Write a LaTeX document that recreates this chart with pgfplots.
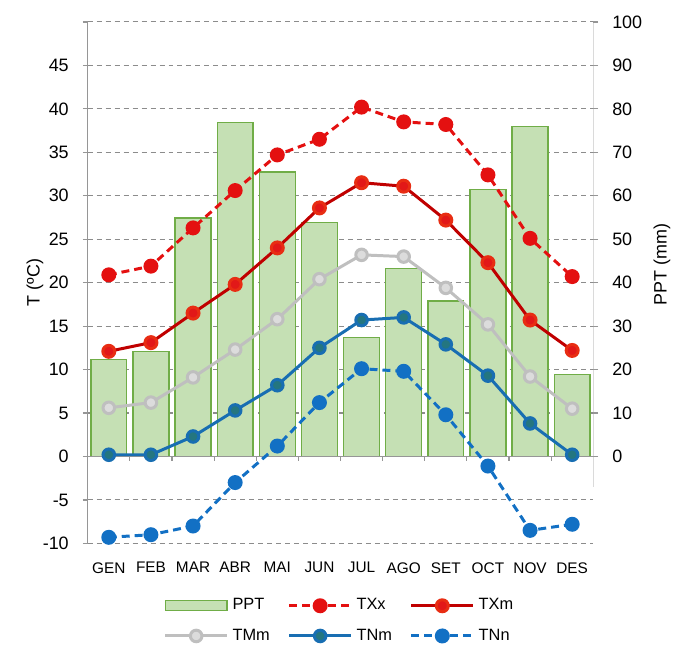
\documentclass[border=0pt]{standalone}
\usepackage{fontspec}
\setmainfont{Liberation Sans}
\usepackage{pgfplots}
\usepackage{pgfplotstable}
\pgfplotsset{compat=1.18}

\definecolor{barfill}{RGB}{197,224,180}
\definecolor{baredge}{RGB}{112,173,71}
\definecolor{txx}{RGB}{228,16,16}
\definecolor{txm}{RGB}{192,0,0}
\definecolor{txmdot}{RGB}{226,24,24}
\definecolor{tmm}{RGB}{191,191,191}
\definecolor{tmmdot}{RGB}{220,220,220}
\definecolor{tnm}{RGB}{24,110,178}
\definecolor{tnmdot}{RGB}{36,118,128}
\definecolor{tnn}{RGB}{18,112,196}
\definecolor{axgray}{RGB}{150,150,150}
\definecolor{gridgray}{RGB}{140,140,140}

% month ppt txx txm tmm tnm tnn
\pgfplotstableread{
m  ppt  txx  txm  tmm  tnm  tnn
1  22.3 20.9 12.1 5.6  0.2  -9.3
2  24.1 21.9 13.1 6.2  0.2  -9.0
3  54.9 26.3 16.5 9.1  2.3  -8.0
4  76.8 30.6 19.8 12.3 5.3  -3.0
5  65.5 34.7 24.0 15.8 8.2  1.2
6  53.8 36.5 28.6 20.4 12.5 6.2
7  27.4 40.2 31.5 23.2 15.7 10.1
8  43.2 38.5 31.1 23.0 16.0 9.8
9  35.8 38.2 27.2 19.4 12.9 4.8
10 61.4 32.4 22.3 15.2 9.3  -1.1
11 75.9 25.1 15.7 9.2  3.8  -8.5
12 18.9 20.7 12.2 5.5  0.2  -7.8
}\clim

\begin{document}
\begin{tikzpicture}
\pgfplotsset{every axis/.append style={width=253.5pt, height=261.5pt, scale only axis,
  xmin=0.5, xmax=12.5, tick align=outside, major tick length=2.5pt}}

% precipitation bars, right axis
\begin{axis}[name=ax,
  ymin=-20, ymax=100,
  axis x line*=bottom, x axis line style={draw=none},
  axis y line*=right, y axis line style={draw=none},
  xtick={1,...,12},
  xticklabels={GEN,FEB,MAR,ABR,MAI,JUN,JUL,AGO,SET,OCT,NOV,DES},
  x tick style={draw=none},
  xticklabel style={font=\fontsize{7.7}{9}\selectfont, yshift=-3.5pt},
  ytick={0,10,...,100},
  yticklabels={0,10,20,30,40,50,60,70,80,90,100},
  yticklabel style={font=\fontsize{9}{10}\selectfont, xshift=3.5pt},
  y tick style={axgray, line width=0.6pt},
  extra y ticks={-20,-10}, extra y tick labels={},
  extra y tick style={major tick length=0pt},
  ymajorgrids,
  grid style={gridgray, dash pattern=on 2.5pt off 2pt, line width=0.55pt},
  ylabel={PPT (mm)},
  every axis y label/.style={at={(axis description cs:1.136,0.535)}, rotate=90, anchor=center,
    font=\fontsize{9}{10}\selectfont},
]
\addplot[ybar, bar width=18pt, fill=barfill, draw=baredge, line width=0.7pt]
  table[x=m, y=ppt] {\clim};
\draw[axgray, line width=0.6pt] (rel axis cs:1,1) -- (axis cs:12.5,-7);
\end{axis}

% temperatures, left axis
\begin{axis}[
  ymin=-10, ymax=50,
  axis y line*=left, axis x line*=middle,
  axis line style={-, axgray, line width=0.6pt},
  xtick=\empty,
  ytick={-10,-5,...,50},
  yticklabels={-10,-5,0,5,10,15,20,25,30,35,40,45,{}},
  yticklabel style={font=\fontsize{9}{10}\selectfont, xshift=-3.5pt},
  tick style={axgray, line width=0.6pt},
  ylabel={T (ºC)},
  every axis y label/.style={at={(axis description cs:-0.1045,0.5)}, rotate=90, anchor=center,
    font=\fontsize{9}{10}\selectfont},
  legend columns=3,
  legend cell align=left,
  legend image code/.code={\draw[mark repeat=2, mark phase=2, #1]
    plot coordinates {(0pt,0pt) (15.5pt,0pt) (31pt,0pt)};},
  legend style={at={(axis description cs:0.5,-0.0899)}, anchor=north, draw=none,
    font=\fontsize{8.2}{9}\selectfont, row sep=4pt,
    /tikz/every even column/.append style={column sep=7pt}},
]
% category separators on the zero line
\pgfplotsinvokeforeach{1.5,2.5,3.5,4.5,5.5,6.5,7.5,8.5,9.5,10.5,11.5}{
  \draw[axgray, line width=0.6pt] (axis cs:#1,0) -- ++(0pt,-2.5pt);
}

\addlegendimage{legend image code/.code={\draw[fill=barfill, draw=baredge, line width=0.7pt]
  (0pt,-2.5pt) rectangle (31pt,2.5pt);}}
\addlegendentry{PPT}

\addplot[txx, line width=1.5pt, dash pattern=on 4pt off 2.5pt,
  mark=*, mark size=3pt, mark options={solid, fill=txx, draw=txx}]
  table[x=m, y=txx] {\clim};
\addlegendentry{TXx}

\addplot[txm, line width=1.5pt,
  mark=*, mark size=3pt, mark options={fill=txmdot, draw=txmdot!80!orange}]
  table[x=m, y=txm] {\clim};
\addlegendentry{TXm}

\addplot[tmm, line width=1.5pt,
  mark=*, mark size=2.9pt, mark options={fill=tmmdot, draw=tmm}]
  table[x=m, y=tmm] {\clim};
\addlegendentry{TMm}

\addplot[tnm, line width=1.5pt,
  mark=*, mark size=2.9pt, mark options={fill=tnmdot, draw=tnm}]
  table[x=m, y=tnm] {\clim};
\addlegendentry{TNm}

\addplot[tnn, line width=1.5pt, dash pattern=on 4pt off 2.5pt,
  mark=*, mark size=3pt, mark options={solid, fill=tnn, draw=tnn}]
  table[x=m, y=tnn] {\clim};
\addlegendentry{TNn}
\end{axis}

\path ([shift={(-44pt,-51.5pt)}]ax.south west) rectangle ([shift={(41pt,11pt)}]ax.north east);
\end{tikzpicture}
\end{document}
